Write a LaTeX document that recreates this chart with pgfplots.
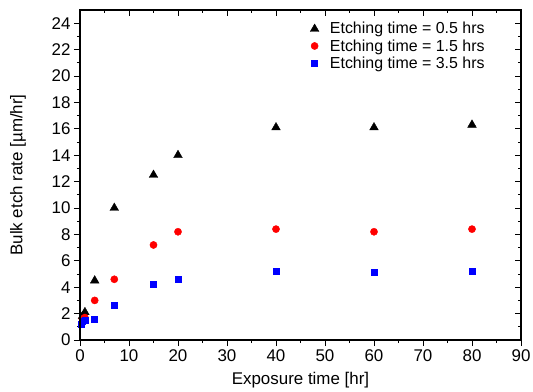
\documentclass[border=0pt]{standalone}
\usepackage{fontspec}
\setmainfont{Liberation Sans}
\usepackage{pgfplots}
\pgfplotsset{compat=1.18}
\begin{document}
\begin{tikzpicture}[x=1bp,y=1bp]
\useasboundingbox (-80bp,-52bp) rectangle (453bp,340bp);
\pgfplotsset{
  common/.style={
    scale only axis, width=441bp, height=330bp,
    xmin=0, xmax=90, ymin=0, ymax=25,
    xtick={0,10,...,90}, ytick={0,2,...,24},
    minor xtick={5,15,...,85}, minor ytick={1,3,...,23},
    major tick length=6bp, minor tick length=3bp,
    every tick/.style={black, line width=0.9pt},
    axis line style={line width=1.1pt},
    /pgf/number format/assume math mode=true,
    ticklabel style={font=\fontsize{17}{19}\selectfont},
  }
}
\begin{axis}[common,
  tick align=outside, xtick pos=bottom, ytick pos=left,
  xlabel={Exposure time [hr]}, ylabel={Bulk etch rate [\textmu m/hr]},
  every axis x label/.style={at={(axis description cs:0.5,-0.1212)}, anchor=center, font=\fontsize{17}{19}\selectfont},
  every axis y label/.style={at={(axis description cs:-0.1406,0.5)}, rotate=90, anchor=center, font=\fontsize{17}{19}\selectfont},
  legend style={draw=none, fill=none, at={(0.515,0.975)}, anchor=north west,
    font=\fontsize{16}{19}\selectfont, row sep=0bp},
  legend cell align=left,
  clip=false,
]
\addplot[only marks, mark=triangle*, mark size=5bp, black] coordinates {
 (0.5,1.8) (1,2.1) (3,4.5) (7,10.0) (15,12.5) (20,14.0) (40,16.1) (60,16.1) (80,16.3)};
\addlegendentry{\hspace*{9bp}Etching time = 0.5 hrs}
\addplot[only marks, mark=*, mark size=3.6bp, red] coordinates {
 (0.5,1.6) (1,1.7) (3,3.0) (7,4.6) (15,7.2) (20,8.2) (40,8.4) (60,8.2) (80,8.4)};
\addlegendentry{\hspace*{9bp}Etching time = 1.5 hrs}
\addplot[only marks, mark=square*, mark size=3bp, blue] coordinates {
 (0.25,1.2) (0.5,1.4) (1,1.5) (3,1.6) (7,2.6) (15,4.2) (20,4.6) (40,5.2) (60,5.1) (80,5.2)};
\addlegendentry{\hspace*{9bp}Etching time = 3.5 hrs}
\end{axis}
\begin{axis}[common,
  tick align=inside, xtick pos=top, ytick pos=right,
  xticklabels={}, yticklabels={},
]
\end{axis}
\end{tikzpicture}
\end{document}
